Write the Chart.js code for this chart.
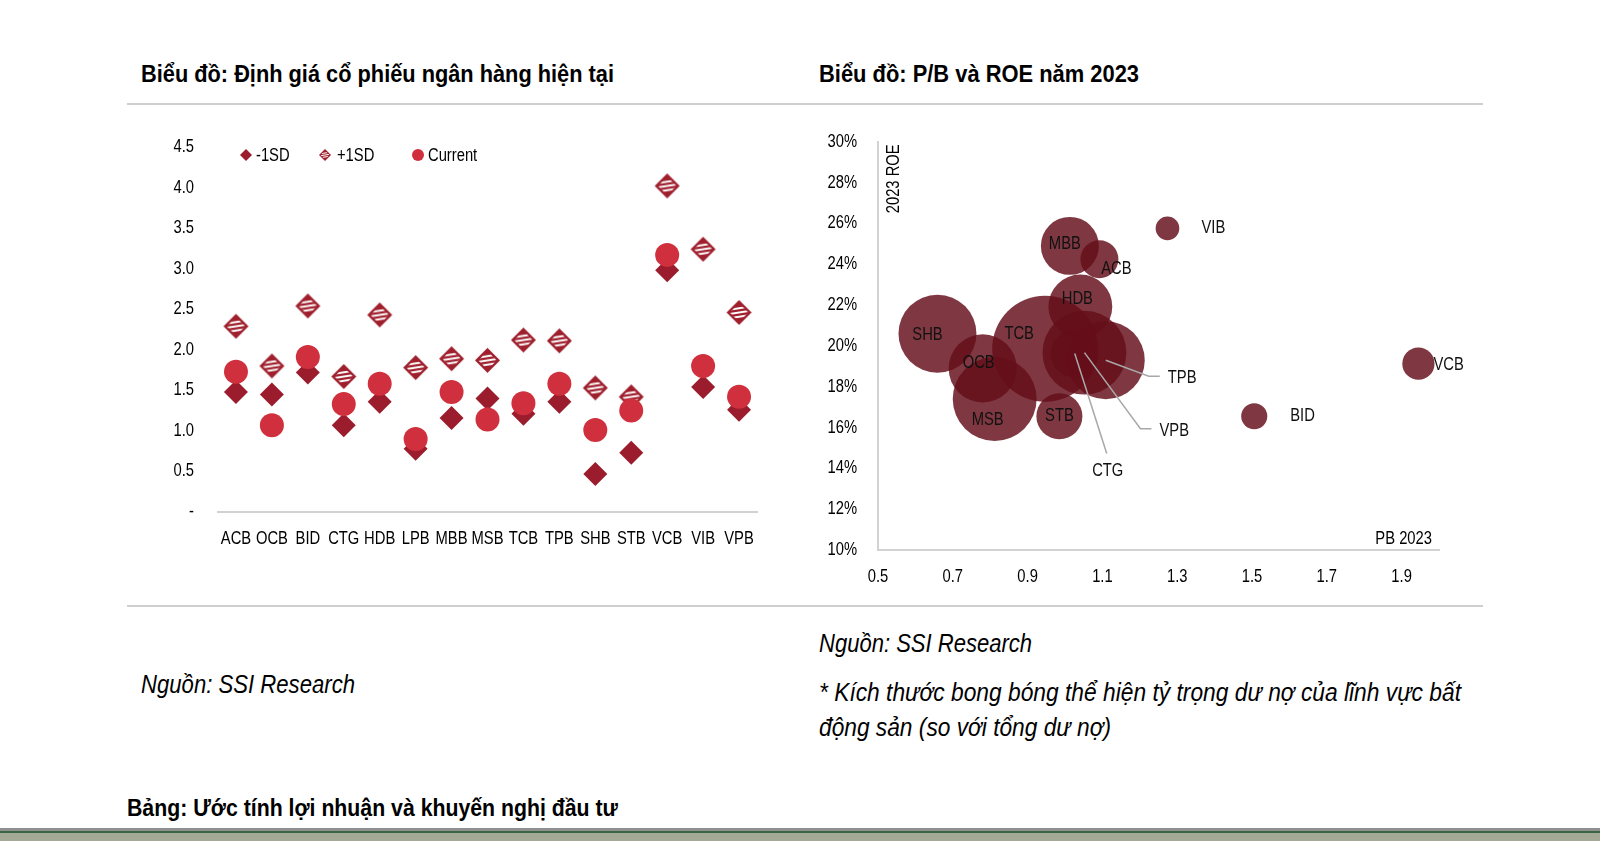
<!DOCTYPE html>
<html><head><meta charset="utf-8">
<script src="https://cdn.jsdelivr.net/npm/chart.js@4.4.0/dist/chart.umd.min.js"></script>
<style>
html,body{margin:0;padding:0;background:#fff;}
body{width:1600px;height:841px;position:relative;overflow:hidden;font-family:"Liberation Sans",Arial,sans-serif;color:#000;}
.t{position:absolute;white-space:nowrap;line-height:1;transform-origin:0 50%;}
.title{font-weight:bold;font-size:24px;}
.src{font-style:italic;font-size:26px;}
.rule{position:absolute;height:2px;background:#cfcfcf;}
#c1{position:absolute;left:130px;top:110px;}
#c2{position:absolute;left:790px;top:110px;}
.band{position:absolute;left:0;width:1600px;}
</style></head><body>
<div class="t title" data-w="473" style="left:141px;top:62px">Biểu đồ: Định giá cổ phiếu ngân hàng hiện tại</div>
<div class="t title" data-w="320" style="left:819px;top:62px">Biểu đồ: P/B và ROE năm 2023</div>
<div class="rule" style="left:127px;width:1356px;top:103px"></div>
<div class="rule" style="left:127px;width:1356px;top:605px"></div>
<canvas id="c1" width="650" height="460"></canvas>
<canvas id="c2" width="680" height="490"></canvas>
<div class="t src" data-w="214" style="left:141px;top:671px">Nguồn: SSI Research</div>
<div class="t src" data-w="213" style="left:819px;top:630px">Nguồn: SSI Research</div>
<div class="t src" data-w="642" style="left:819px;top:679px">* Kích thước bong bóng thể hiện tỷ trọng dư nợ của lĩnh vực bất</div>
<div class="t src" data-w="292" style="left:819px;top:714px">động sản (so với tổng dư nợ)</div>
<div class="t title" data-w="491" style="left:127px;top:796px">Bảng: Ước tính lợi nhuận và khuyến nghị đầu tư</div>
<div class="band" style="top:828px;height:3px;background:#8f8f8f"></div>
<div class="band" style="top:831px;height:2px;background:#3b6443"></div>
<div class="band" style="top:833px;height:8px;background:#a2aa95"></div>
<script>
// ---------- DATA: left chart ----------
const categories = ['ACB','OCB','BID','CTG','HDB','LPB','MBB','MSB','TCB','TPB','SHB','STB','VCB','VIB','VPB'];
const minus1SD   = [1.48,1.45,1.72,1.07,1.36,0.78,1.16,1.40,1.21,1.36,0.47,0.73,2.98,1.54,1.26];
const plus1SD    = [2.29,1.80,2.54,1.67,2.43,1.78,1.89,1.87,2.12,2.11,1.53,1.42,4.02,3.24,2.46];
const currentPB  = [1.73,1.07,1.91,1.33,1.58,0.90,1.48,1.14,1.34,1.58,1.01,1.25,3.17,1.80,1.42];
const leftYTicks = [0,0.5,1,1.5,2,2.5,3,3.5,4,4.5];
const seriesNames = ['-1SD','+1SD','Current'];

// ---------- DATA: right chart ----------
const banks       = ['VIB','MBB','ACB','HDB','SHB','TCB','OCB','MSB','STB','CTG','VPB','TPB','VCB','BID'];
const pb2023      = [1.274,1.013,1.092,1.041,0.659,0.947,0.780,0.812,0.985,1.026,1.052,1.109,1.945,1.506];
const roe2023     = [25.76,24.90,24.25,21.93,20.60,19.86,18.90,17.40,16.55,19.63,19.67,19.30,19.13,16.55];
const reLoanShare = [1.4,8.4,3.6,10.2,15.2,28.1,11.6,17.6,5.3,5.8,17.6,15.2,2.6,1.7];
const rightXTicks = [0.5,0.7,0.9,1.1,1.3,1.5,1.7,1.9];
const rightYTicks = [10,12,14,16,18,20,22,24,26,28,30];

// ---------- fit HTML text widths (narrow look) ----------
document.querySelectorAll('.t[data-w]').forEach(el=>{
  const w = el.getBoundingClientRect().width;
  el.style.transform = 'scaleX(' + (parseFloat(el.dataset.w)/w) + ')';
});

// ---------- STYLE ----------
const FONT = '"Liberation Sans",Arial,sans-serif';
const SX = 0.82; // narrow text
Chart.defaults.font.family = FONT;
Chart.defaults.color = '#000';
const C_MINUS = '#9b1d2d', C_PLUS = '#9f1f2d', C_CUR = '#d0303d';
const AXIS_LINE = '#d2d2d2';

const condensePlugin = {
  id:'condense',
  beforeInit(chart){
    const ctx = chart.ctx;
    const orig = ctx.fillText.bind(ctx);
    ctx.fillText = function(t,x,y){ ctx.save(); ctx.translate(x,y); ctx.scale(SX,1); orig(t,0,0); ctx.restore(); };
  }
};

function hatchedDiamond(r){
  const s = Math.ceil(2*r+2);
  const c = document.createElement('canvas'); c.width = s; c.height = s;
  const g = c.getContext('2d'); const m = s/2;
  g.beginPath(); g.moveTo(m,m-r); g.lineTo(m+r,m); g.lineTo(m,m+r); g.lineTo(m-r,m); g.closePath();
  g.fillStyle = C_PLUS; g.fill();
  const ir = r*0.74;
  g.save();
  g.beginPath(); g.moveTo(m,m-ir); g.lineTo(m+ir,m); g.lineTo(m,m+ir); g.lineTo(m-ir,m); g.closePath(); g.clip();
  g.translate(m,m); g.rotate(-0.15);
  g.fillStyle = '#fff';
  const sp = r*0.34, th = r*0.16;
  for (let k=-1;k<=1;k++) g.fillRect(-r, k*sp - th/2, 2*r, th);
  g.restore();
  return c;
}
const plusImg = hatchedDiamond(12.5);
const plusImgSmall = hatchedDiamond(6);

const legendPlugin = {
  id:'customLegend',
  afterDraw(chart){
    const ctx = chart.ctx, a = chart.chartArea;
    const y = a.top + 8;
    const items = [
      {mx:28, tx:38, draw:(x)=>{ctx.beginPath();ctx.moveTo(x,y-6);ctx.lineTo(x+6,y);ctx.lineTo(x,y+6);ctx.lineTo(x-6,y);ctx.closePath();ctx.fillStyle=C_MINUS;ctx.fill();}},
      {mx:107, tx:119, draw:(x)=>{ctx.drawImage(plusImgSmall, x-plusImgSmall.width/2, y-plusImgSmall.height/2);}},
      {mx:200, tx:210, draw:(x)=>{ctx.beginPath();ctx.arc(x,y,6,0,Math.PI*2);ctx.fillStyle=C_CUR;ctx.fill();}}
    ];
    ctx.save();
    ctx.font = '18px '+FONT; ctx.textBaseline='middle'; ctx.textAlign='left';
    items.forEach((it,i)=>{ it.draw(a.left+it.mx); ctx.fillStyle='#000'; ctx.fillText(seriesNames[i], a.left+it.tx, y+1); });
    ctx.restore();
  }
};

new Chart(document.getElementById('c1'), {
  type:'line',
  data:{
    labels: categories,
    datasets:[
      {label:seriesNames[0], data:minus1SD, showLine:false, pointStyle:'rectRot', pointRadius:12, backgroundColor:C_MINUS, borderWidth:0, order:2},
      {label:seriesNames[1], data:plus1SD, showLine:false, pointStyle:plusImg, pointRadius:12, borderWidth:0, order:1},
      {label:seriesNames[2], data:currentPB, showLine:false, pointStyle:'circle', pointRadius:12, backgroundColor:C_CUR, borderWidth:0, order:0}
    ]
  },
  options:{
    responsive:false, animation:false, events:[],
    layout:{autoPadding:false, padding:{left:0,right:23,top:37,bottom:0}},
    plugins:{legend:{display:false}, tooltip:{enabled:false}},
    scales:{
      x:{offset:true, grid:{display:false, drawTicks:false}, border:{display:true,color:AXIS_LINE,width:2},
         ticks:{padding:16, font:{size:18}, maxRotation:0, autoSkip:false},
         afterFit(s){ s.height = 58; }},
      y:{min:0, max:4.5, grid:{display:false, drawTicks:false}, border:{display:false},
         afterBuildTicks(s){ s.ticks = leftYTicks.map(v=>({value:v})); },
         ticks:{padding:24, font:{size:18}, callback:(v)=> v===0 ? '-' : Number(v).toFixed(1)},
         afterFit(s){ s.width = 88; }}
    }
  },
  plugins:[condensePlugin, legendPlugin]
});

// ---------- right chart ----------
const labelPlacement = {
  VIB:{dx:34,dy:0,align:'left'}, MBB:{dx:-5,dy:-2}, ACB:{dx:17,dy:10}, HDB:{dx:-3,dy:-7},
  SHB:{dx:-10,dy:1}, TCB:{dx:-26,dy:-15}, OCB:{dx:-4,dy:-5}, MSB:{dx:-7,dy:21}, STB:{dx:0,dy:0},
  CTG:{dx:33,dy:118,line:[[32,100]]},
  VPB:{dx:75,dy:78,align:'left',line:[[56,76],[67,76]]},
  TPB:{dx:62,dy:18,align:'left',line:[[43,16],[54,16]]},
  VCB:{dx:15,dy:1,align:'left'}, BID:{dx:36,dy:0,align:'left'}
};
const bubbleLabelPlugin = {
  id:'bubbleLabels',
  afterDatasetsDraw(chart){
    const ctx = chart.ctx, meta = chart.getDatasetMeta(0), a = chart.chartArea;
    ctx.save();
    ctx.font = '18px '+FONT; ctx.textBaseline='middle';
    meta.data.forEach((pt,i)=>{
      const st = labelPlacement[banks[i]];
      if (st.line){
        ctx.beginPath(); ctx.moveTo(pt.x,pt.y);
        st.line.forEach(([dx,dy])=>ctx.lineTo(pt.x+dx,pt.y+dy));
        ctx.strokeStyle='#a8a8a8'; ctx.lineWidth=1.5; ctx.stroke();
      }
    });
    ctx.fillStyle='#111';
    meta.data.forEach((pt,i)=>{
      const st = labelPlacement[banks[i]];
      ctx.textAlign = st.align || 'center';
      ctx.fillText(banks[i], pt.x+st.dx, pt.y+st.dy);
    });
    ctx.fillStyle='#000';
    ctx.textAlign='right'; ctx.fillText('PB 2023', a.right-7, a.bottom-11);
    ctx.translate(a.left+16, a.top+37); ctx.rotate(-Math.PI/2);
    ctx.textAlign='center'; ctx.fillText('2023 ROE',0,0);
    ctx.restore();
  }
};

new Chart(document.getElementById('c2'), {
  type:'bubble',
  data:{
    datasets:[{
      label:'P/B vs ROE',
      data: banks.map((b,i)=>({x:pb2023[i], y:roe2023[i], r:10*Math.sqrt(reLoanShare[i])})),
      backgroundColor:'rgba(101,14,26,0.83)', borderWidth:0
    }]
  },
  options:{
    responsive:false, animation:false, events:[],
    layout:{autoPadding:false, padding:{left:0,right:31,top:28,bottom:0}},
    plugins:{legend:{display:false}, tooltip:{enabled:false}},
    scales:{
      x:{type:'linear', min:0.5, max:2.0, grid:{display:false, drawTicks:false}, border:{display:true,color:AXIS_LINE,width:2},
         afterBuildTicks(s){ s.ticks = rightXTicks.map(v=>({value:v})); },
         ticks:{padding:16, font:{size:18}, maxRotation:0, callback:(v)=>Number(v).toFixed(1)},
         afterFit(s){ s.height = 50; }},
      y:{min:10, max:30, grid:{display:false, drawTicks:false}, border:{display:true,color:AXIS_LINE,width:2},
         afterBuildTicks(s){ s.ticks = rightYTicks.map(v=>({value:v})); },
         ticks:{padding:21, font:{size:18}, callback:(v)=>v+'%'},
         afterFit(s){ s.width = 88; }}
    }
  },
  plugins:[condensePlugin, bubbleLabelPlugin]
});
</script>
</body></html>
